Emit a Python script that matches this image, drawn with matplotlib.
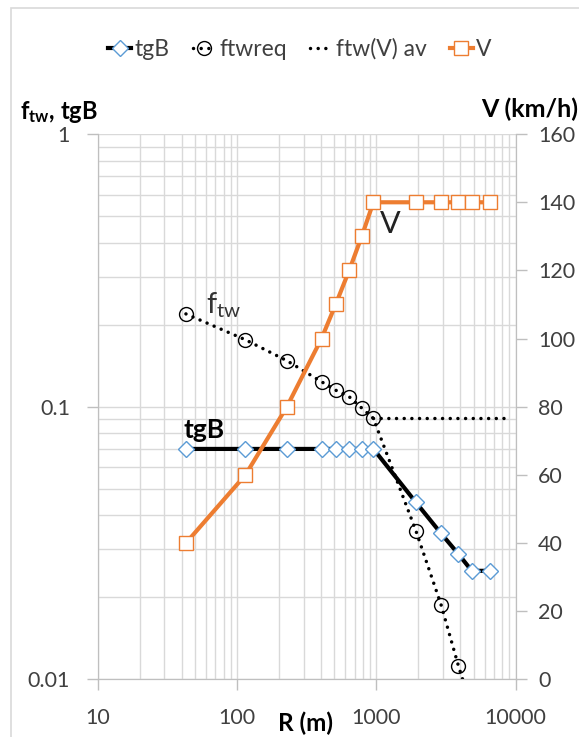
import matplotlib
matplotlib.use("Agg")
import matplotlib.pyplot as plt
from matplotlib.lines import Line2D
from matplotlib.patches import Rectangle
from matplotlib.ticker import FixedLocator, NullFormatter, LogLocator

#Fonts

plt.rcParams['font.family'] = ['Lato', 'DejaVu Sans']
plt.rcParams['mathtext.fontset'] = 'custom'
plt.rcParams['mathtext.rm'] = 'Lato'
plt.rcParams['mathtext.it'] = 'Lato'
plt.rcParams['mathtext.bf'] = 'Lato:bold'

#Data

R = [43, 115, 228, 404, 510, 638, 785, 952, 1920, 2910, 3880, 4840, 6550]
V = [40, 60, 80, 100, 110, 120, 130, 140, 140, 140, 140, 140, 140]
tgB = [0.07, 0.07, 0.07, 0.07, 0.07, 0.07, 0.07, 0.07, 0.0446, 0.0343, 0.0288, 0.025, 0.025]

R_req = [43, 115, 228, 404, 510, 638, 785, 952, 1920, 2910, 3880, 4840]
ftw_req = [0.219, 0.176, 0.1475, 0.1235, 0.115, 0.1088, 0.0989, 0.0906, 0.0351, 0.0188, 0.0112, 0.0078]

R_av = [952, 9300]
ftw_av = [0.0906, 0.0906]

x_ticks = [10, 100, 1000, 10000]
x_labels = ['10', '100', '1000', '10000']
y_ticks = [0.01, 0.1, 1]
y_labels = ['0.01', '0.1', '1']
v_ticks = [0, 20, 40, 60, 80, 100, 120, 140, 160]

#Colours

orange = '#ED7D31'
blue = '#5B9BD5'
grid_c = '#D9D9D9'
spine_c = '#BFBFBF'
text_c = '#404040'

fig = plt.figure(figsize=(5.79, 7.37), dpi=100)
ax = fig.add_axes([0.1687, 0.0783, 0.722, 0.7397])
ax2 = ax.twinx()

ax.set_xscale('log')
ax.set_yscale('log')
ax.set_xlim(10, 10000)
ax.set_ylim(0.01, 1)
ax2.set_ylim(0, 160)

#Grid

ax.grid(True, which='both', color=grid_c, linewidth=1)
ax.set_axisbelow(True)
ax.xaxis.set_minor_locator(LogLocator(base=10, subs=range(2, 10)))
ax.yaxis.set_minor_locator(LogLocator(base=10, subs=range(2, 10)))
ax.xaxis.set_minor_formatter(NullFormatter())
ax.yaxis.set_minor_formatter(NullFormatter())
ax.tick_params(which='minor', length=0)

ax.xaxis.set_major_locator(FixedLocator(x_ticks))
ax.set_xticklabels(x_labels)
ax.yaxis.set_major_locator(FixedLocator(y_ticks))
ax.set_yticklabels(y_labels)
ax2.set_yticks(v_ticks)

for a in (ax, ax2):
    a.tick_params(which='major', length=8, width=1, color=spine_c, labelcolor=text_c, labelsize=15.5)
    for s in a.spines.values():
        s.set_color(spine_c)
    a.spines['top'].set_visible(False)
ax.tick_params(axis='y', pad=12)
ax.tick_params(axis='x', pad=13)
ax2.tick_params(axis='y', pad=8)

#Series

dot = (0, (0.01, 2.2))
ax.plot(R, tgB, color='black', linewidth=3, marker='D', markersize=8.5,
        markerfacecolor='white', markeredgecolor=blue, markeredgewidth=1, zorder=3)
ax.plot(R_req, ftw_req, color='black', linewidth=2.5, linestyle=dot, dash_capstyle='round',
        marker='o', markersize=10, markerfacecolor='none', markeredgecolor='black',
        markeredgewidth=1, zorder=4)
ax.plot(R_av, ftw_av, color='black', linewidth=2.5, linestyle=dot, dash_capstyle='round', zorder=4)
ax2.plot(R, V, color=orange, linewidth=3, marker='s', markersize=10,
         markerfacecolor='white', markeredgecolor=orange, markeredgewidth=1, zorder=3)

#Inside labels

ax2.text(1250, 133.6, 'V', fontsize=22, color='#222222', ha='center', va='center')
ax.text(60, 0.236, r'$\mathregular{f_{tw}}$', fontsize=21, color='#333333', ha='left', va='center')
ax.text(58, 0.0768, 'tgB', fontsize=19, fontweight='bold', color='black', ha='center', va='baseline')

#Axis titles

fig.text(20 / 579, 1 - 119 / 737, r'$\mathbf{f_{tw}}$, tgB', fontsize=17, fontweight='bold', color='black',
         ha='left', va='baseline')
fig.text(578 / 579, 1 - 117 / 737, 'V (km/h)', fontsize=18, fontweight='bold', color='black',
         ha='right', va='baseline')
fig.text(306 / 579, 1 - 731 / 737, 'R (m)', fontsize=17.5, fontweight='bold', color='black',
         ha='center', va='baseline')

#Legend

handles = [
    Line2D([], [], color='black', linewidth=3, marker='D', markersize=8.5,
           markerfacecolor='white', markeredgecolor=blue),
    Line2D([], [], color='black', linewidth=2.5, linestyle=dot, dash_capstyle='round', marker='o',
           markersize=10, markerfacecolor='none', markeredgecolor='black'),
    Line2D([], [], color='black', linewidth=2.5, linestyle=dot, dash_capstyle='round'),
    Line2D([], [], color=orange, linewidth=3, marker='s', markersize=10,
           markerfacecolor='white', markeredgecolor=orange),
]
fig.legend(handles, ['tgB', 'ftwreq', 'ftw(V) av', 'V'], loc='center', ncol=4,
           bbox_to_anchor=(300 / 579, 1 - 49 / 737), frameon=False, fontsize=16.5,
           handlelength=1.0, handletextpad=0.15, columnspacing=1.0, labelcolor=text_c)

#Chart frame

fig.patches.append(Rectangle((11 / 579, -0.1), 1.2, 1.1 - 8 / 737, transform=fig.transFigure,
                             fill=False, edgecolor=grid_c, linewidth=1.2))

fig.savefig('out.png', dpi=100)
